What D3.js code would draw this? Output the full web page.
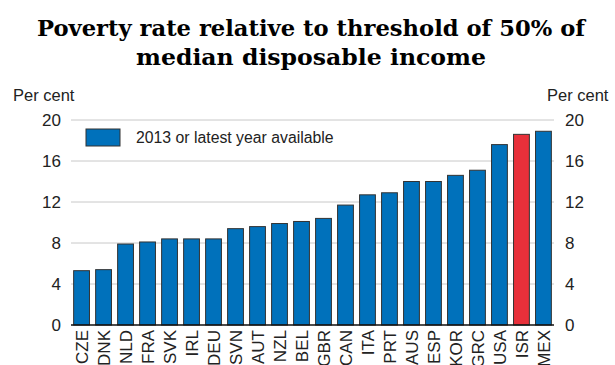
<!DOCTYPE html>
<style>
body { margin: 0; background: #fff; }
svg text { font-family: "Liberation Sans", Arial, sans-serif; fill: #222; }
</style>
<svg id="chart" width="615" height="365"></svg>
<script src="https://cdn.jsdelivr.net/npm/d3@7"></script>
<script>

var countries = ["CZE", "DNK", "NLD", "FRA", "SVK", "IRL", "DEU", "SVN", "AUT", "NZL", "BEL",
  "GBR", "CAN", "ITA", "PRT", "AUS", "ESP", "KOR", "GRC", "USA", "ISR", "MEX"];
var povertyRate = [5.3, 5.4, 7.9, 8.1, 8.4, 8.4, 8.4, 9.4, 9.6, 9.9, 10.1,
  10.4, 11.7, 12.7, 12.9, 14.0, 14.0, 14.6, 15.1, 17.6, 18.6, 18.9];
var yTicks = [0, 4, 8, 12, 16, 20];
var highlight = "ISR";
var titleLines = ["Poverty rate relative to threshold of 50% of", "median disposable income"];
var legendLabel = "2013 or latest year available";

var svg = d3.select("#chart"),
  margin = {top: 120, right: 61, bottom: 40, left: 71},
  width = +svg.attr("width") - margin.left - margin.right,
  height = 325 - margin.top;

var data = countries.map(function(c, i) { return {country: c, value: povertyRate[i]}; });

// title, squeezed to the reference width
var title = svg.append("g");
var titleWidths = [548, 350];
titleLines.forEach(function(line, i) {
  title.append("text")
      .attr("x", 311)
      .attr("y", 36 + i * 29)
      .attr("text-anchor", "middle")
      .attr("textLength", titleWidths[i])
      .attr("lengthAdjust", "spacingAndGlyphs")
      .style("font-family", "'DejaVu Serif', serif")
      .style("font-weight", "bold")
      .style("font-size", "23px")
      .style("fill", "#000")
      .text(line);
});

var g = svg.append("g").attr("transform", "translate(" + margin.left + "," + margin.top + ")");

var x = d3.scaleBand()
    .domain(countries)
    .range([0, width])
    .paddingInner(0.28)
    .paddingOuter(0.12);

var y = d3.scaleLinear()
    .domain([0, 20])
    .range([height, 0]);

// gridlines
g.append("g")
  .selectAll("line")
  .data(yTicks.filter(function(d) { return d > 0; }))
  .enter().append("line")
    .attr("x1", 0)
    .attr("x2", width)
    .attr("y1", function(d) { return y(d); })
    .attr("y2", function(d) { return y(d); })
    .attr("stroke", "#c8c8c8")
    .attr("stroke-width", 1);

// bars
g.append("g")
  .selectAll("rect")
  .data(data)
  .enter().append("rect")
    .attr("x", function(d) { return x(d.country); })
    .attr("y", function(d) { return y(d.value); })
    .attr("width", x.bandwidth())
    .attr("height", function(d) { return height - y(d.value); })
    .attr("fill", function(d) { return d.country === highlight ? "#e8303a" : "#0071bb"; })
    .attr("stroke", "#333")
    .attr("stroke-width", 1);

// baseline
g.append("line")
    .attr("x1", 0)
    .attr("x2", width)
    .attr("y1", height)
    .attr("y2", height)
    .attr("stroke", "#111")
    .attr("stroke-width", 1.5);

// y axes, left and right
var axisLeft = g.append("g")
    .call(d3.axisLeft(y).tickValues(yTicks).tickSize(0).tickPadding(10));
var axisRight = g.append("g")
    .attr("transform", "translate(" + width + ",0)")
    .call(d3.axisRight(y).tickValues(yTicks).tickSize(0).tickPadding(11));
[axisLeft, axisRight].forEach(function(a) {
  a.select(".domain").remove();
  a.selectAll("text")
      .style("font-family", "'Liberation Sans', Arial, sans-serif")
      .style("font-size", "17px")
      .attr("fill", "#222");
});

// x axis labels, rotated (the reference crops them at the bottom edge)
var xAxis = g.append("g")
    .attr("transform", "translate(0," + height + ")")
    .call(d3.axisBottom(x).tickSize(0).tickPadding(0));
xAxis.select(".domain").remove();
xAxis.selectAll("text")
    .style("font-family", "'Liberation Sans', Arial, sans-serif")
    .style("font-size", "17px")
    .attr("fill", "#222")
    .attr("text-anchor", "end")
    .attr("transform", "rotate(-90)")
    .attr("x", -5)
    .attr("y", 0)
    .attr("dy", "0.36em");

// unit labels
svg.append("text")
    .attr("x", 13)
    .attr("y", 101)
    .style("font-size", "16.5px")
    .text("Per cent");
svg.append("text")
    .attr("x", 547)
    .attr("y", 101)
    .style("font-size", "16.5px")
    .text("Per cent");

// legend
var legend = svg.append("g").attr("transform", "translate(86,129)");
legend.append("rect")
    .attr("width", 34)
    .attr("height", 17)
    .attr("fill", "#0071bb")
    .attr("stroke", "#333")
    .attr("stroke-width", 1);
legend.append("text")
    .attr("x", 50)
    .attr("y", 14)
    .style("font-size", "15.8px")
    .text(legendLabel);

</script>
